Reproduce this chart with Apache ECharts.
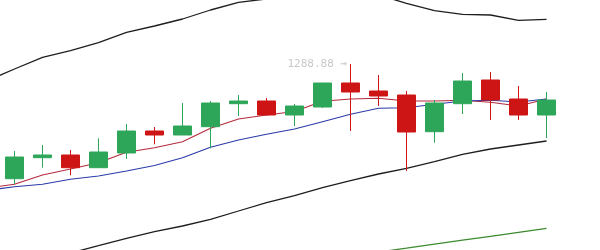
<!DOCTYPE html>
<html>
<head>
<meta charset="utf-8">
<script src="https://cdn.jsdelivr.net/npm/echarts@6/dist/echarts.min.js"></script>
<style>html,body{margin:0;padding:0;background:#fff;}#c{width:600px;height:250px;}</style>
</head>
<body>
<div id="c"></div>
<script>
var categories = ['D0','D1','D2','D3','D4','D5','D6','D7','D8','D9','D10','D11','D12','D13','D14','D15','D16','D17','D18','D19','D20'];
// [open, close, lowest, highest]
var candles = [
  '-',
  [1231.53, 1242.38, 1228.88, 1245.38],
  [1242.03, 1243.38, 1237.03, 1248.38],
  [1243.38, 1237.03, 1233.23, 1245.88],
  [1237.03, 1244.88, 1237.03, 1251.73],
  [1244.38, 1255.38, 1241.38, 1258.88],
  [1255.38, 1253.38, 1248.73, 1257.38],
  [1253.38, 1257.88, 1253.38, 1269.38],
  [1257.53, 1269.38, 1246.73, 1270.38],
  [1269.03, 1270.38, 1262.88, 1273.38],
  [1270.38, 1263.38, 1263.38, 1271.88],
  [1263.38, 1267.88, 1257.88, 1268.88],
  [1267.38, 1279.38, 1266.88, 1279.38],
  [1279.38, 1274.88, 1255.38, 1288.88],
  [1275.38, 1272.88, 1267.88, 1283.38],
  [1273.38, 1254.88, 1235.38, 1275.38],
  [1255.03, 1269.38, 1249.53, 1270.88],
  [1269.03, 1280.38, 1263.88, 1284.38],
  [1280.88, 1270.88, 1260.88, 1284.88],
  [1271.38, 1263.38, 1260.88, 1277.88],
  [1263.38, 1270.88, 1251.88, 1274.88]
];
var maShort = [1226.88, 1228.73, 1233.38, 1236.38, 1239.53, 1244.73, 1247.03, 1250.03, 1256.73, 1261.38, 1263.38, 1265.13, 1270.23, 1271.38, 1271.73, 1270.38, 1270.38, 1270.73, 1269.73, 1267.88, 1271.38];
var maLong = [1225.63, 1227.53, 1228.73, 1231.23, 1232.88, 1235.38, 1238.13, 1242.03, 1247.23, 1250.88, 1253.73, 1256.38, 1260.03, 1263.73, 1266.73, 1267.03, 1268.73, 1270.38, 1270.73, 1269.88, 1271.38];
var bandUpper = [1280.38, 1286.38, 1292.23, 1295.53, 1299.53, 1304.73, 1307.88, 1311.38, 1315.88, 1319.73, 1321.38, 1322.38, 1323.88, 1324.38, 1323.38, 1319.23, 1315.53, 1313.73, 1313.38, 1310.73, 1311.23];
var bandLower = [1182.88, 1186.88, 1190.88, 1194.38, 1198.03, 1201.73, 1205.03, 1207.88, 1211.23, 1215.38, 1219.53, 1223.03, 1227.03, 1230.53, 1233.88, 1236.73, 1240.03, 1243.73, 1246.38, 1248.38, 1250.38];
var greenLine = ['-', '-', '-', '-', '-', '-', '-', '-', '-', '-', '-', '-', '-', 1192.88, 1194.88, 1196.78, 1198.78, 1200.78, 1202.73, 1204.73, 1206.73];

var chart = echarts.init(document.getElementById('c'), null, {renderer: 'canvas'});
function lineSeries(data, color, width) {
  return {
    type: 'line', data: data, symbol: 'none', smooth: false,
    lineStyle: {color: color, width: width}, silent: true, z: 1
  };
}
chart.setOption({
  animation: false,
  backgroundColor: '#ffffff',
  grid: {left: -27.5, right: 39.5, top: -18.24, bottom: -11.76, containLabel: false, outerBoundsMode: 'none'},
  xAxis: {type: 'category', data: categories, show: false, boundaryGap: true},
  yAxis: {type: 'value', min: 1190, max: 1330, show: false, splitLine: {show: false}},
  series: [
    lineSeries(bandUpper, '#1e1e1e', 1.3),
    lineSeries(bandLower, '#1e1e1e', 1.3),
    lineSeries(greenLine, '#3b8b2e', 1.2),
    lineSeries(maShort, '#b42a3c', 1.1),
    lineSeries(maLong, '#2a3aa8', 1.1),
    {
      type: 'candlestick', data: candles, barWidth: 19, z: 2,
      itemStyle: {color: '#2ea65a', color0: '#cd1515', borderColor: '#2ea65a', borderColor0: '#cd1515', borderWidth: 1},
      markPoint: {
        symbol: 'circle', symbolSize: 1,
        itemStyle: {color: 'rgba(0,0,0,0)'},
        label: {
          show: true, position: 'left', distance: 3,
          fontFamily: 'DejaVu Sans Mono', fontSize: 11, color: '#c8c8c8',
          formatter: function (p) { return p.value + ' \u2192'; }
        },
        data: [{type: 'max', valueDim: 'highest'}]
      }
    }
  ]
});
</script>
</body>
</html>
